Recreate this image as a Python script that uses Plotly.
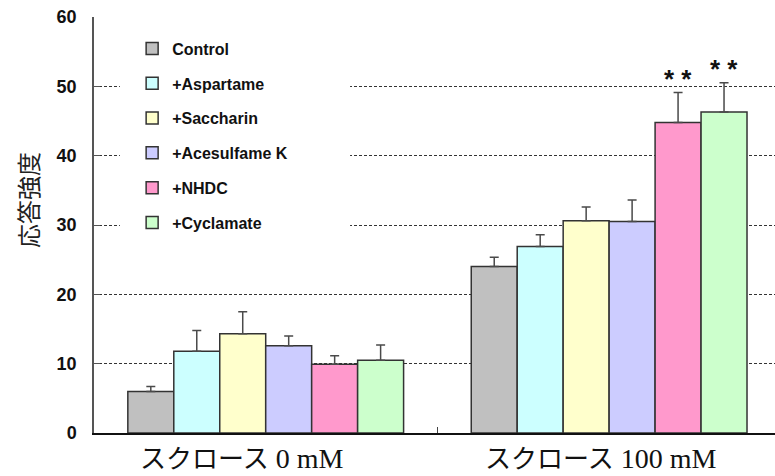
import plotly.graph_objects as go

# Categories (x axis) and series
groups = ["スクロース 0 mM", "スクロース 100 mM"]
series_names = ["Control", "+Aspartame", "+Saccharin", "+Acesulfame K", "+NHDC", "+Cyclamate"]
series_colors = ["#C0C0C0", "#CCFFFF", "#FFFFCC", "#CCCCFF", "#FF99CC", "#CCFFCC"]

# Mean response and error (upper bar only)
control_mean = [6.0, 24.0]
control_err = [0.7, 1.35]
aspartame_mean = [11.8, 26.9]
aspartame_err = [3.0, 1.7]
saccharin_mean = [14.3, 30.6]
saccharin_err = [3.2, 2.0]
acesulfame_mean = [12.6, 30.5]
acesulfame_err = [1.4, 3.1]
nhdc_mean = [9.9, 44.8]
nhdc_err = [1.25, 4.3]
cyclamate_mean = [10.5, 46.3]
cyclamate_err = [2.2, 4.2]

# Significance marks: (series index, group index)
significance = [(4, 1), (5, 1)]
sig_text = "* *"

y_ticks = [0, 10, 20, 30, 40, 50, 60]
grid_levels = [10, 20, 30, 40, 50]

means = [control_mean, aspartame_mean, saccharin_mean, acesulfame_mean, nhdc_mean, cyclamate_mean]
errs = [control_err, aspartame_err, saccharin_err, acesulfame_err, nhdc_err, cyclamate_err]

BARGAP = 0.197

fig = go.Figure()
for i, name in enumerate(series_names):
    fig.add_trace(go.Bar(
        name=name,
        x=groups,
        y=means[i],
        legendgroup=name,
        marker=dict(color=series_colors[i], line=dict(color="#333333", width=1.5)),
        error_y=dict(type="data", array=errs[i], arrayminus=[0] * len(groups),
                     symmetric=False, color="#4a4a4a", thickness=1.5, width=4.5),
    ))

# Asterisks above the significant bars
n = len(series_names)
bar_w = (1 - BARGAP) / n
annotations = []
for si, gi in significance:
    xpos = gi + (si - (n - 1) / 2) * bar_w
    annotations.append(dict(
        x=xpos, y=means[si][gi] + errs[si][gi], xref="x", yref="y",
        text=sig_text, showarrow=False, yanchor="bottom", yshift=-3,
        font=dict(family="Liberation Sans", size=26, color="#111111", weight="bold"),
    ))

# Category labels: Katakana in gothic, numbers in serif
label_shift = [-24, -9]
for gi, g in enumerate(groups):
    kana, rest = g.split(" ", 1)
    annotations.append(dict(
        x=gi, y=0, xref="x", yref="paper", yanchor="middle", yshift=-23,
        xshift=label_shift[gi], showarrow=False,
        text=kana + "<span style='font-family:Liberation Serif;font-size:28px'> " + rest + "</span>",
        font=dict(family="Noto Sans CJK JP", size=26, color="#111111"),
    ))

# Y axis title
annotations.append(dict(
    x=0, y=0.56, xref="paper", yref="paper", xanchor="center", yanchor="middle",
    xshift=-67, showarrow=False,
    text="応答強度", textangle=-90,
    font=dict(family="Noto Sans CJK JP", size=24, color="#222222"),
))

# White panel behind the legend that interrupts the grid lines
legend_panel = dict(
    type="rect", xref="paper", yref="paper",
    x0=0.038, x1=0.376, y0=0.464, y1=0.969,
    fillcolor="white", line=dict(width=0), layer="above",
)

fig.update_layout(
    width=775, height=476,
    margin=dict(l=94, r=0, t=17, b=43),
    paper_bgcolor="white", plot_bgcolor="white",
    barmode="group", bargap=BARGAP, bargroupgap=0,
    showlegend=True,
    legend=dict(
        x=0.056, y=0.965, xanchor="left", yanchor="top",
        bgcolor="white", borderwidth=0,
        font=dict(family="Liberation Sans", size=16, color="#111111", weight="bold"),
        traceorder="grouped", tracegroupgap=11,
    ),
    shapes=[legend_panel],
    annotations=annotations,
    xaxis=dict(
        range=[-0.5, 1.483], showticklabels=False,
        ticks="inside", tickson="boundaries", ticklen=6, tickcolor="#444444",
        showline=True, linecolor="#111111", linewidth=1.5, showgrid=False, zeroline=False,
    ),
    yaxis=dict(
        range=[0, 60], tickvals=y_ticks,
        ticks="inside", ticklen=6, tickcolor="#555555",
        showline=True, linecolor="#555555", linewidth=1.5,
        showgrid=False, zeroline=False, ticklabelstandoff=12,
        tickfont=dict(family="Liberation Sans", size=18, color="#111111", weight="bold"),
        minor=dict(tickvals=grid_levels, showgrid=True, gridcolor="#333333",
                   griddash="3px,2px", gridwidth=1, ticks=""),
    ),
)

fig.write_html("out.html")
